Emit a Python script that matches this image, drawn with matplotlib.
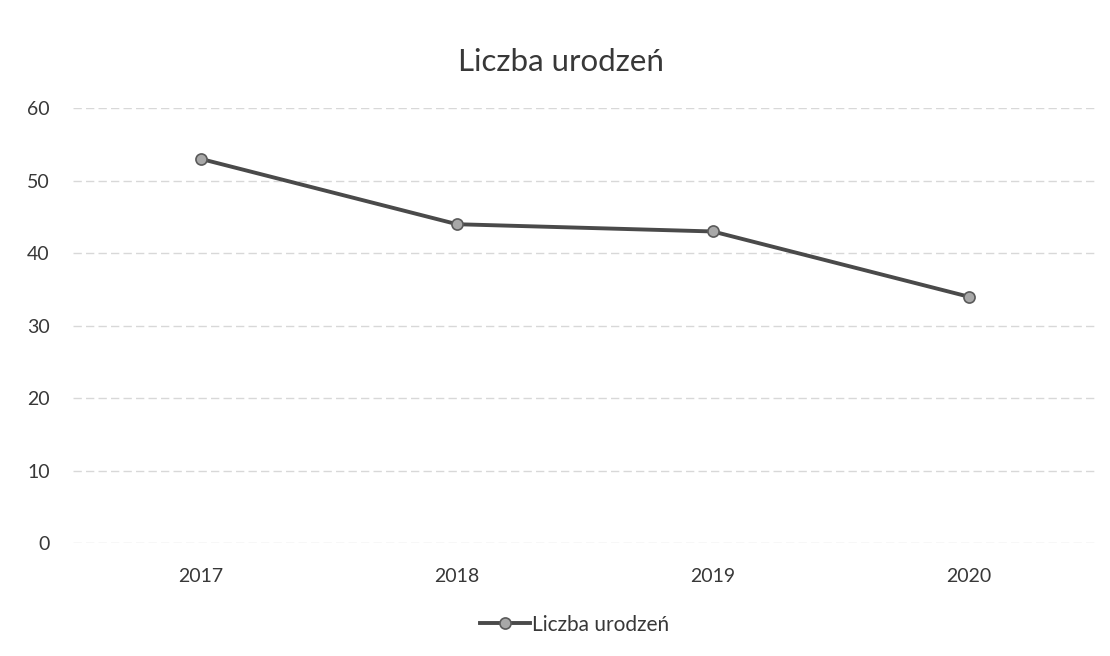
import matplotlib.pyplot as plt

# data
years = ['2017', '2018', '2019', '2020']
births = [53, 44, 43, 34]
yticks = [0, 10, 20, 30, 40, 50, 60]

plt.rcParams['font.family'] = ['Lato', 'DejaVu Sans']

fig = plt.figure(figsize=(11.1, 6.56), dpi=100)
ax = fig.add_axes([0.066, 0.172, 0.922, 0.663])

x = list(range(len(years)))
ax.plot(x, births, color='#4a4a4a', linewidth=2.8, marker='o', markersize=8,
        markerfacecolor='#a8a8a8', markeredgecolor='#5a5a5a', markeredgewidth=1.2,
        label='Liczba urodzeń', zorder=3)

ax.set_xlim(-0.5, len(years) - 0.5)
ax.set_ylim(0, 60)
ax.set_xticks(x)
ax.set_xticklabels(years)
ax.set_yticks(yticks)
ax.grid(axis='y', color='#d8d8d8', linewidth=1, linestyle=(0, (6, 3)))
ax.set_axisbelow(True)
for s in ax.spines.values():
    s.set_visible(False)
ax.tick_params(length=0, labelsize=14, colors='#383838')
ax.tick_params(axis='y', pad=17)
ax.tick_params(axis='x', pad=18)

fig.text(0.505, 0.906, 'Liczba urodzeń', ha='center', va='center', fontsize=22.5, color='#383838')
fig.legend(loc='center', bbox_to_anchor=(0.518, 0.048), frameon=False, fontsize=15,
           handlelength=2.4, handletextpad=0.1, labelcolor='#383838')

fig.savefig('out.png', dpi=100)
